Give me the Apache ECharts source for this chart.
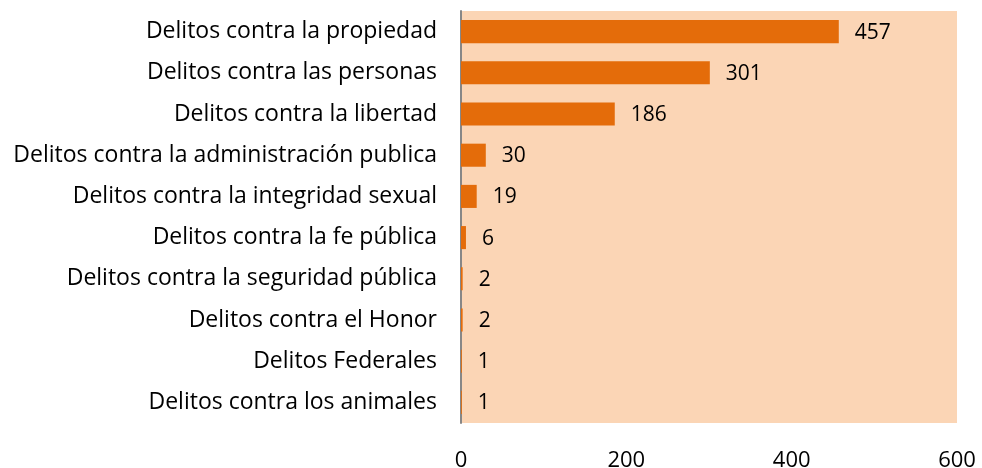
<!DOCTYPE html>
<html><head><meta charset="utf-8">
<script src="https://cdn.jsdelivr.net/npm/echarts@6/dist/echarts.min.js"></script>
<style>html,body{margin:0;padding:0;background:#fff}#c{width:982px;height:468px}</style>
</head><body><div id="c"></div>
<script>
const categories = [
  "Delitos contra la propiedad",
  "Delitos contra las personas",
  "Delitos contra la libertad",
  "Delitos contra la administración publica",
  "Delitos contra la integridad sexual",
  "Delitos contra la fe pública",
  "Delitos contra la seguridad pública",
  "Delitos contra el Honor",
  "Delitos Federales",
  "Delitos contra los animales"
];
const values = [457, 301, 186, 30, 19, 6, 2, 2, 1, 1];
const xTicks = [0, 200, 400, 600];

const FONT = 'Open Sans';
const chart = echarts.init(document.getElementById('c'), null, {renderer: 'canvas'});
chart.setOption({
  animation: false,
  grid: {left: 461, right: 25, top: 11, bottom: 45, containLabel: false,
         outerBoundsMode: 'none',
         show: true, backgroundColor: '#FBD5B5', borderWidth: 0},
  xAxis: {
    type: 'value', min: xTicks[0], max: xTicks[xTicks.length - 1], interval: 200,
    axisLine: {show: false}, axisTick: {show: false}, splitLine: {show: false},
    axisLabel: {margin: 27, color: '#000', fontFamily: FONT, fontSize: 22}
  },
  yAxis: {
    type: 'category', data: categories, inverse: true,
    axisLine: {show: true, lineStyle: {color: '#878787', width: 2}},
    axisTick: {show: false},
    axisLabel: {margin: 24, color: '#000', fontFamily: FONT, fontSize: 23}
  },
  series: [{
    type: 'bar', data: values, barCategoryGap: '44%',
    itemStyle: {color: '#E46C0A'},
    label: {show: true, position: 'right', distance: 16, color: '#000',
            fontFamily: FONT, fontSize: 21, offset: [0, 1]}
  }]
});
</script></body></html>
